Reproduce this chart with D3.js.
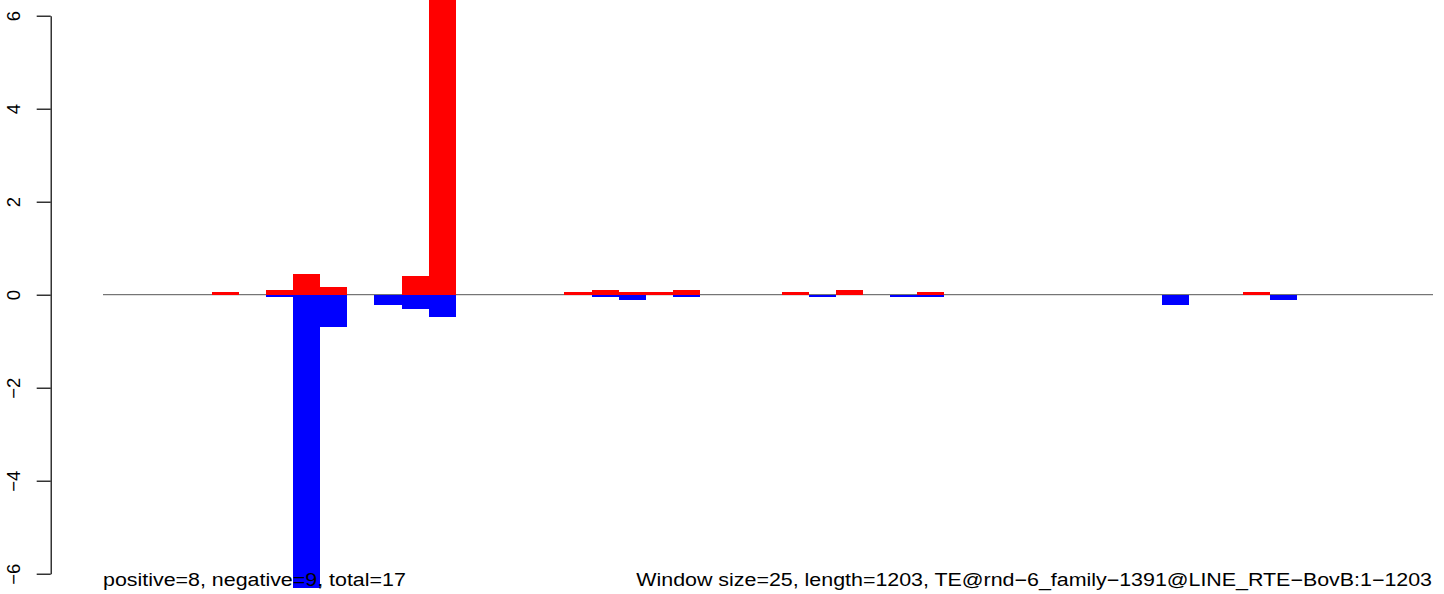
<!DOCTYPE html>
<html>
<head>
<meta charset="utf-8">
<script src="https://cdn.jsdelivr.net/npm/d3@7"></script>
<style>
  html, body { margin: 0; padding: 0; background: #fff; }
  svg { display: block; font-family: "Liberation Sans", Arial, Helvetica, sans-serif; }
</style>
</head>
<body>
<script>
// ---- data ----
const windowCount = 49; // 1203 bp / window size 25
const positiveWindows = [4, 6, 7, 8, 11, 12, 17, 18, 19, 20, 21, 25, 27, 30, 42];
const positiveValues  = [0.05, 0.11, 0.45, 0.17, 0.40, 6.9, 0.05, 0.11, 0.05, 0.05, 0.11, 0.05, 0.11, 0.05, 0.05];
const negativeWindows = [6, 7, 8, 10, 11, 12, 18, 19, 21, 26, 29, 30, 39, 43];
const negativeValues  = [-0.06, -6.31, -0.70, -0.23, -0.30, -0.47, -0.06, -0.12, -0.06, -0.06, -0.06, -0.06, -0.23, -0.12];
const yTicks = [-6, -4, -2, 0, 2, 4, 6];
const leftNote = "positive=8, negative=9, total=17";
const rightNote = "Window size=25, length=1203, TE@rnd\u22126_family\u22121391@LINE_RTE\u2212BovB:1\u22121203";

// ---- layout ----
const W = 1444, H = 594;
const svg = d3.select("body").append("svg").attr("width", W).attr("height", H);

const x = d3.scaleLinear().domain([0, windowCount]).range([103, 1433]);
const y = d3.scaleLinear().domain([-6, 6]).range([573.7, 15.7]);

svg.append("defs").append("clipPath").attr("id", "clip")
  .append("rect").attr("x", 0).attr("y", 0).attr("width", W).attr("height", H);

// zero line
svg.append("line")
  .attr("x1", x(0)).attr("x2", x(windowCount))
  .attr("y1", y(0)).attr("y2", y(0))
  .attr("stroke", "#555").attr("stroke-width", 1);

const g = svg.append("g").attr("clip-path", "url(#clip)");
const bw = x(1) - x(0);

g.selectAll("rect.pos").data(positiveWindows.map((w, i) => ({w, v: positiveValues[i]})))
  .join("rect").attr("class", "pos")
  .attr("x", d => x(d.w)).attr("width", bw)
  .attr("y", d => y(d.v)).attr("height", d => y(0) - y(d.v))
  .attr("fill", "#ff0000").attr("shape-rendering", "crispEdges");

g.selectAll("rect.neg").data(negativeWindows.map((w, i) => ({w, v: negativeValues[i]})))
  .join("rect").attr("class", "neg")
  .attr("x", d => x(d.w)).attr("width", bw)
  .attr("y", y(0)).attr("height", d => y(d.v) - y(0))
  .attr("fill", "#0000ff").attr("shape-rendering", "crispEdges");

// y axis
const axisG = svg.append("g").attr("transform", "translate(50.7,0)")
  .call(d3.axisLeft(y).tickValues(yTicks).tickSize(14).tickSizeOuter(0).tickFormat(d3.format("d")));
axisG.select(".domain").attr("stroke", "#000").attr("stroke-width", 1.2);
axisG.selectAll(".tick line").attr("stroke", "#000").attr("stroke-width", 1.2);
axisG.selectAll(".tick text")
  .attr("x", null).attr("dy", null)
  .attr("transform", "translate(-31.2,0) rotate(-90)")
  .attr("text-anchor", "middle")
  .attr("font-size", 18.5)
  .attr("font-family", "Liberation Sans, Arial, sans-serif")
  .attr("fill", "#000");

// bottom notes
svg.append("text")
  .attr("transform", "translate(103,586) scale(1.19,1)")
  .attr("font-size", 18).attr("fill", "#000")
  .text(leftNote);
svg.append("text")
  .attr("transform", "translate(1432,586) scale(1.19,1)")
  .attr("text-anchor", "end")
  .attr("font-size", 18).attr("fill", "#000")
  .text(rightNote);
</script>
</body>
</html>
